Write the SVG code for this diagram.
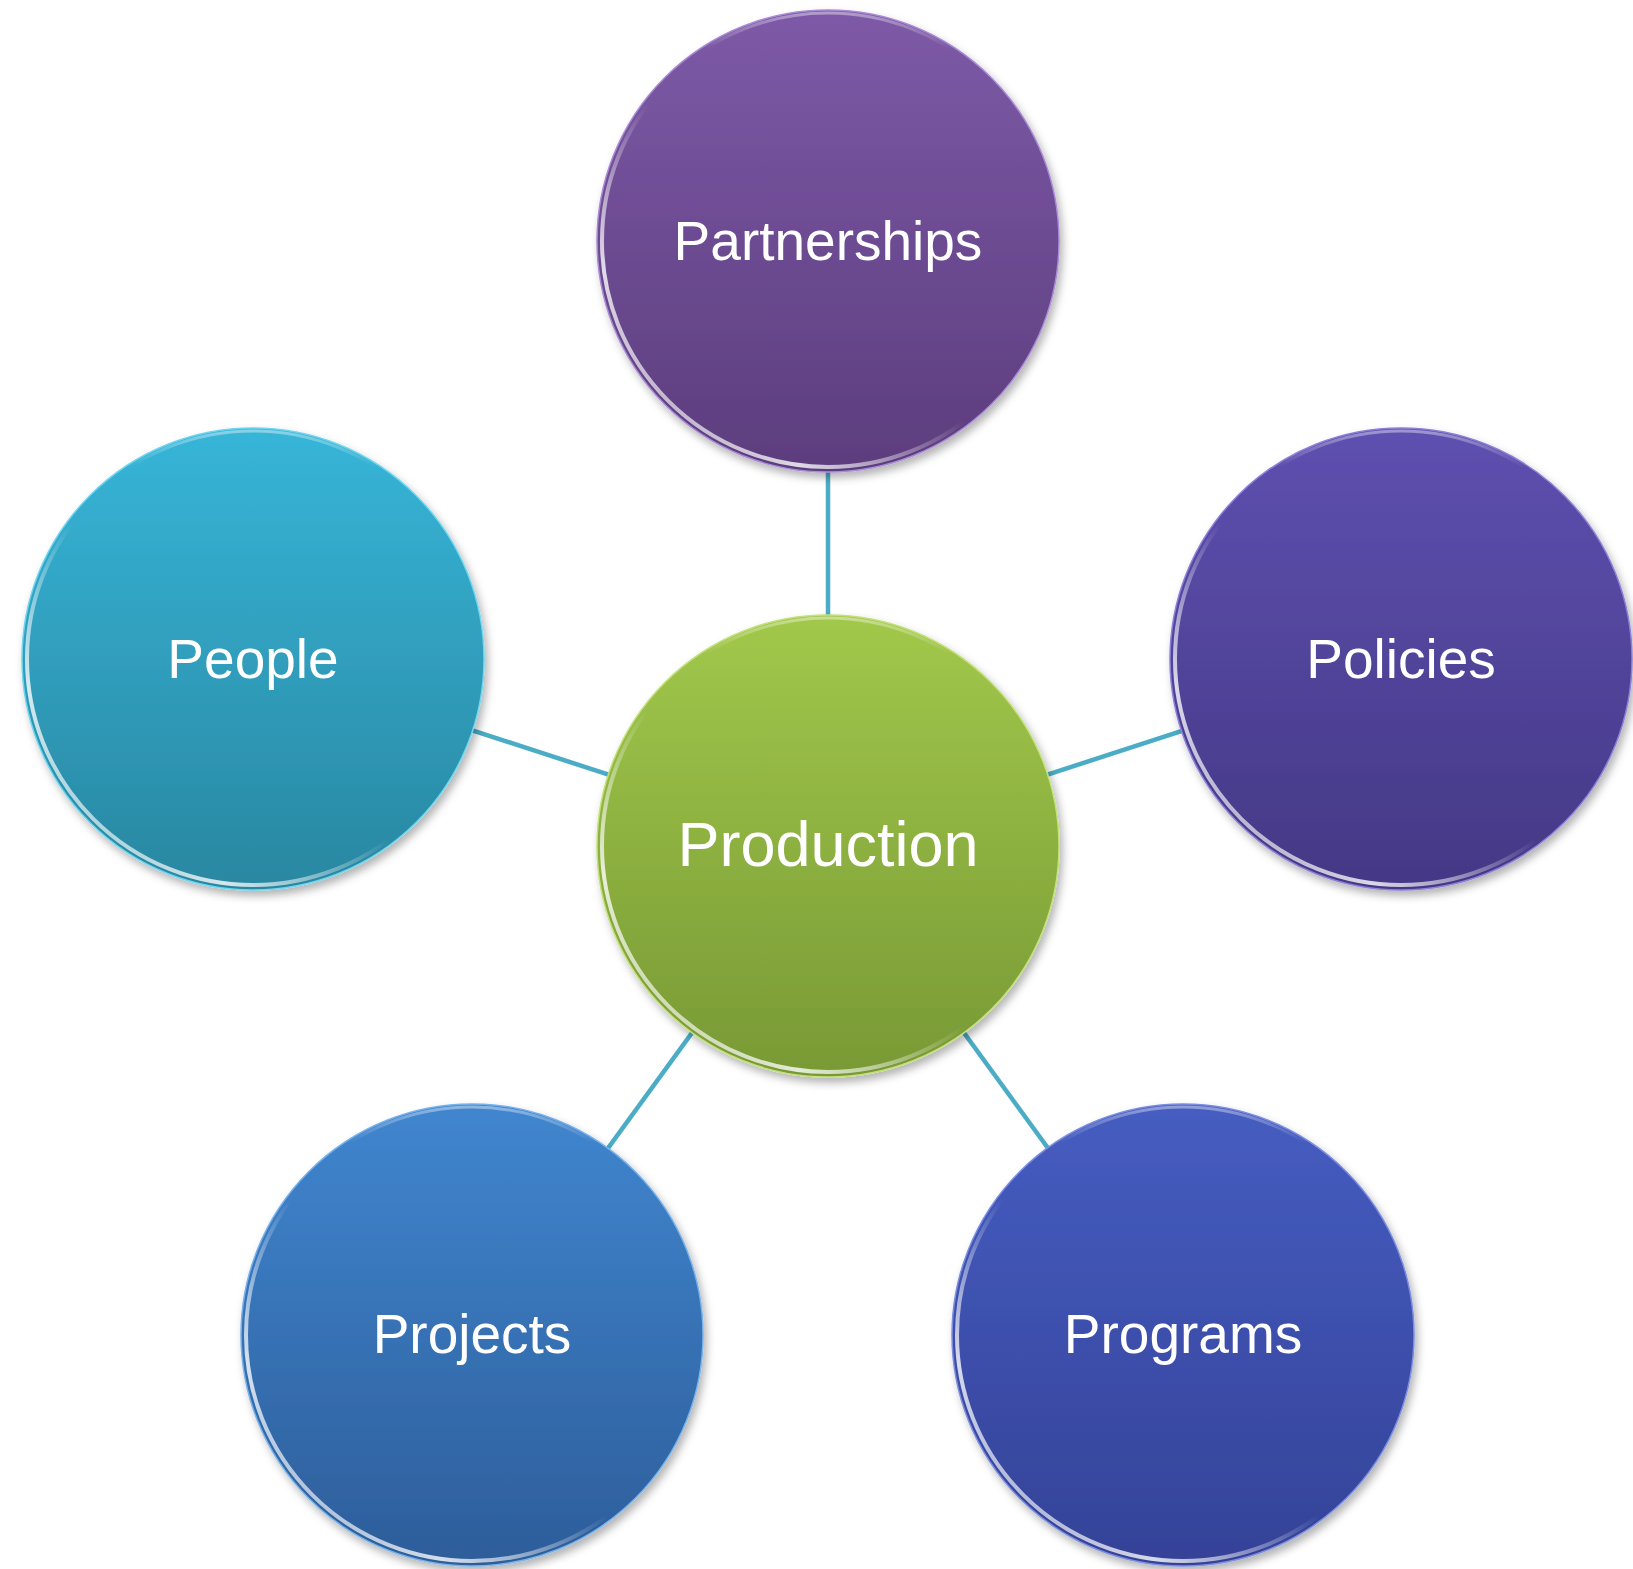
<svg xmlns="http://www.w3.org/2000/svg" width="1633" height="1569" viewBox="0 0 1633 1569">
<defs>
<style>
.lbl{font-family:"Liberation Sans","Open Sans",sans-serif;fill:#ffffff;text-anchor:middle;font-size:55px}
.big{font-size:63px}
.conn{stroke:#4bacc6;stroke-width:4.5;fill:none}
.rim{fill:none;stroke:url(#rimG);stroke-width:4}
.toprim{fill:none;stroke:url(#topG);stroke-width:3}
</style>
<filter id="sh" x="-10%" y="-10%" width="125%" height="125%">
<feDropShadow dx="3" dy="5" stdDeviation="4" flood-color="#000" flood-opacity="0.3"/>
</filter>
<linearGradient id="rimG" x1="1" y1="0" x2="0" y2="1">
<stop offset="0.55" stop-color="#fff" stop-opacity="0"/>
<stop offset="0.78" stop-color="#fff" stop-opacity="0.8"/>
<stop offset="1" stop-color="#fff" stop-opacity="0.3"/>
</linearGradient>
<linearGradient id="topG" x1="0" y1="0" x2="0" y2="1">
<stop offset="0" stop-color="#fff" stop-opacity="0.4"/>
<stop offset="0.08" stop-color="#fff" stop-opacity="0"/>
</linearGradient>
<linearGradient id="gPart" x1="0" y1="0" x2="0" y2="1"><stop offset="0" stop-color="#7d5aa7"/><stop offset="1" stop-color="#5c3d7d"/></linearGradient>
<linearGradient id="gProd" x1="0" y1="0" x2="0" y2="1"><stop offset="0" stop-color="#a2c84b"/><stop offset="1" stop-color="#789935"/></linearGradient>
<linearGradient id="gPeop" x1="0" y1="0" x2="0" y2="1"><stop offset="0" stop-color="#37b5d8"/><stop offset="1" stop-color="#2987a1"/></linearGradient>
<linearGradient id="gPoli" x1="0" y1="0" x2="0" y2="1"><stop offset="0" stop-color="#5e50b0"/><stop offset="1" stop-color="#443885"/></linearGradient>
<linearGradient id="gProj" x1="0" y1="0" x2="0" y2="1"><stop offset="0" stop-color="#4086cf"/><stop offset="1" stop-color="#2d5d9a"/></linearGradient>
<linearGradient id="gProg" x1="0" y1="0" x2="0" y2="1"><stop offset="0" stop-color="#465dc1"/><stop offset="1" stop-color="#344297"/></linearGradient>
</defs>
<rect width="1633" height="1569" fill="#ffffff"/>
<g id="connectors">
<line class="conn" x1="828" y1="846" x2="828" y2="241"/>
<line class="conn" x1="828" y1="846" x2="253" y2="659"/>
<line class="conn" x1="828" y1="846" x2="1403" y2="659"/>
<line class="conn" x1="828" y1="846" x2="472" y2="1335"/>
<line class="conn" x1="828" y1="846" x2="1184" y2="1335"/>
</g>
<g id="node-partnerships">
<circle cx="828" cy="241" r="231" fill="url(#gPart)" stroke="#a98bd6" stroke-width="1.5" filter="url(#sh)"/>
<circle class="rim" cx="828" cy="241" r="226"/>
<circle class="toprim" cx="828" cy="241" r="228"/>
<text class="lbl" x="828" y="260">Partnerships</text>
</g>
<g id="node-production">
<circle cx="828" cy="846" r="231" fill="url(#gProd)" stroke="#c3e07a" stroke-width="1.5" filter="url(#sh)"/>
<circle class="rim" cx="828" cy="846" r="226"/>
<circle class="toprim" cx="828" cy="846" r="228"/>
<text class="lbl big" x="828" y="866">Production</text>
</g>
<g id="node-people">
<circle cx="253" cy="659" r="231" fill="url(#gPeop)" stroke="#6fd6f0" stroke-width="1.5" filter="url(#sh)"/>
<circle class="rim" cx="253" cy="659" r="226"/>
<circle class="toprim" cx="253" cy="659" r="228"/>
<text class="lbl" x="253" y="678">People</text>
</g>
<g id="node-policies">
<circle cx="1401" cy="659" r="231" fill="url(#gPoli)" stroke="#8d80d8" stroke-width="1.5" filter="url(#sh)"/>
<circle class="rim" cx="1401" cy="659" r="226"/>
<circle class="toprim" cx="1401" cy="659" r="228"/>
<text class="lbl" x="1401" y="678">Policies</text>
</g>
<g id="node-projects">
<circle cx="472" cy="1335" r="231" fill="url(#gProj)" stroke="#78b2ea" stroke-width="1.5" filter="url(#sh)"/>
<circle class="rim" cx="472" cy="1335" r="226"/>
<circle class="toprim" cx="472" cy="1335" r="228"/>
<text class="lbl" x="472" y="1353">Projects</text>
</g>
<g id="node-programs">
<circle cx="1183" cy="1335" r="231" fill="url(#gProg)" stroke="#7d8ee0" stroke-width="1.5" filter="url(#sh)"/>
<circle class="rim" cx="1183" cy="1335" r="226"/>
<circle class="toprim" cx="1183" cy="1335" r="228"/>
<text class="lbl" x="1183" y="1353">Programs</text>
</g>
</svg>
